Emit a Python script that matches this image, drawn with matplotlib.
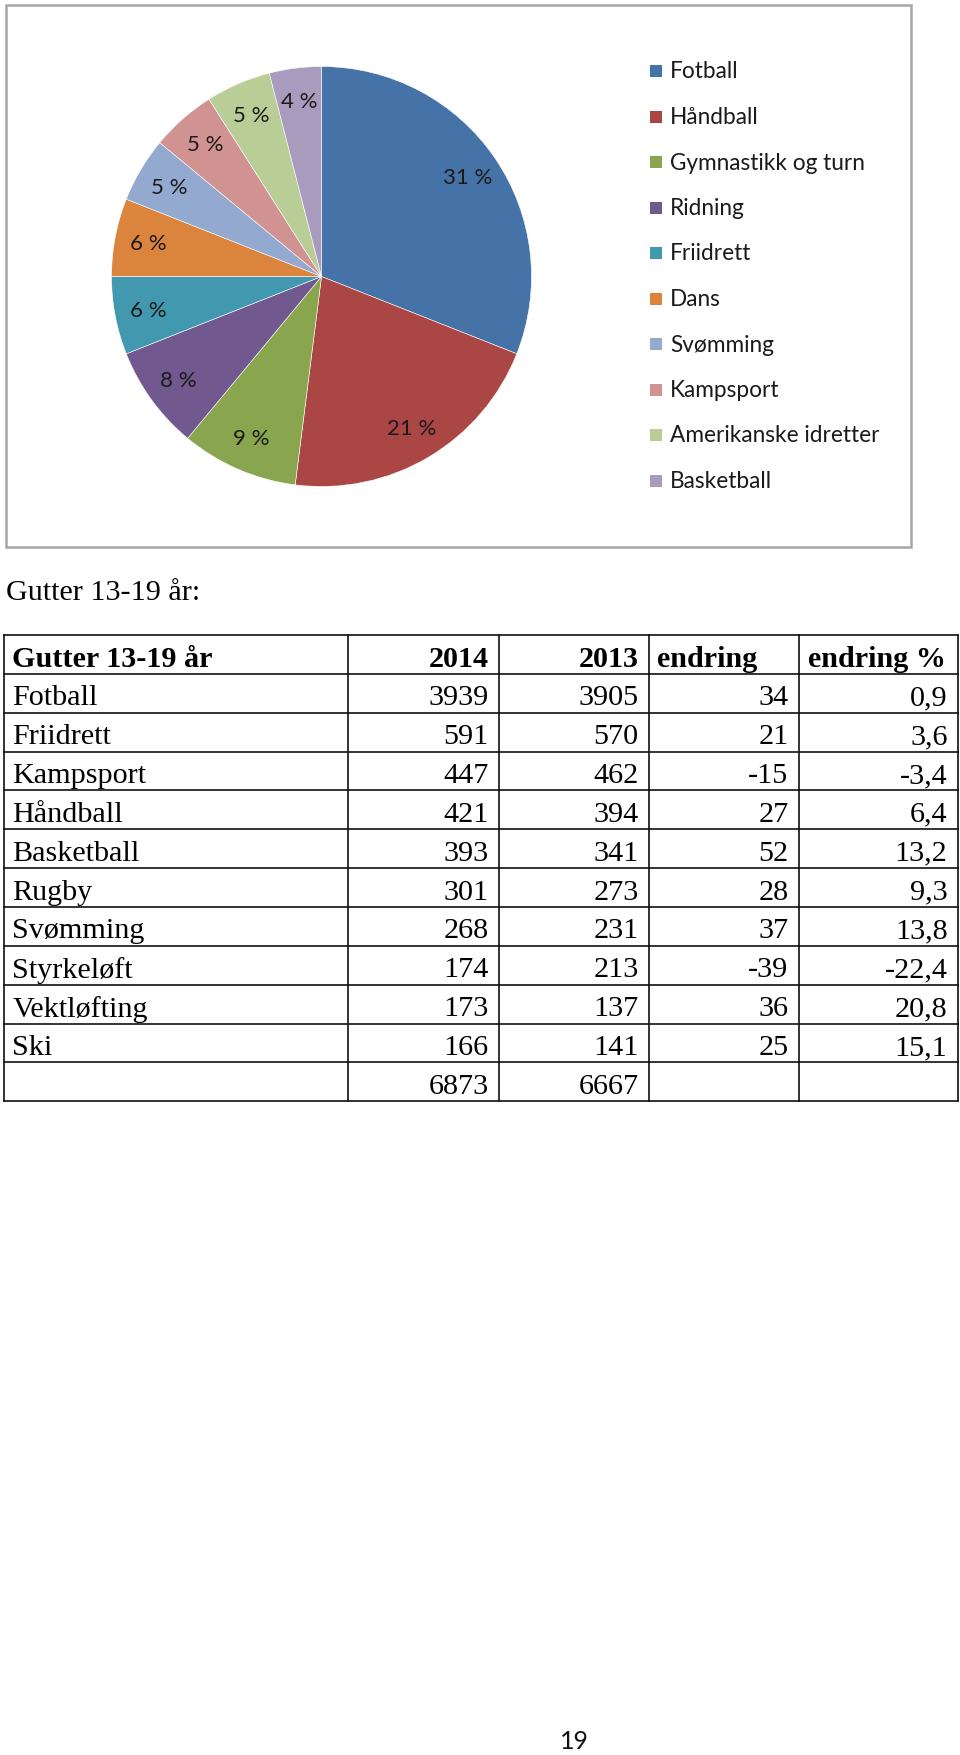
import matplotlib
matplotlib.use("Agg")
import matplotlib.pyplot as plt
from matplotlib.patches import Rectangle

# ---------------- data ----------------
pie_labels = ["Fotball", "Håndball", "Gymnastikk og turn", "Ridning", "Friidrett",
              "Dans", "Svømming", "Kampsport", "Amerikanske idretter", "Basketball"]
pie_values = [31, 21, 9, 8, 6, 6, 5, 5, 5, 4]
pie_colors = ["#4572A7", "#AA4643", "#89A54E", "#71588F", "#4198AF",
              "#DB843D", "#93A9CF", "#D19392", "#B9CD96", "#A99BBD"]

table_title = "Gutter 13-19 år:"
header = ["Gutter 13-19 år", "2014", "2013", "endring", "endring %"]
header_align = ["left", "right", "right", "left", "left"]
sports = ["Fotball", "Friidrett", "Kampsport", "Håndball", "Basketball",
          "Rugby", "Svømming", "Styrkeløft", "Vektløfting", "Ski"]
y2014 = [3939, 591, 447, 421, 393, 301, 268, 174, 173, 166]
y2013 = [3905, 570, 462, 394, 341, 273, 231, 213, 137, 141]
endring = [34, 21, -15, 27, 52, 28, 37, -39, 36, 25]
endring_pct = ["0,9", "3,6", "-3,4", "6,4", "13,2", "9,3", "13,8", "-22,4", "20,8", "15,1"]
totals = ["", "6873", "6667", "", ""]
page_number = "19"

# ---------------- figure ----------------
W, H = 960, 1756
fig = plt.figure(figsize=(W / 100, H / 100), dpi=100)
fig.patch.set_facecolor("white")

# overlay axes in pixel coordinates
ov = fig.add_axes([0, 0, 1, 1])
ov.set_xlim(0, W)
ov.set_ylim(H, 0)
ov.axis("off")

# chart frame
ov.add_patch(Rectangle((6, 6), 905, 542, fill=False, edgecolor="#a6a6a6", lw=1.8))

# pie
cx, cy, r = 321.5, 277.5, 210
pax = fig.add_axes([(cx - r) / W, 1 - (cy + r) / H, 2 * r / W, 2 * r / H])
wedges, texts, autotexts = pax.pie(
    pie_values, colors=pie_colors, startangle=90, counterclock=False,
    autopct=lambda p: f"{p:.0f} %", pctdistance=0.84,
    wedgeprops=dict(edgecolor="white", linewidth=0.4),
    textprops=dict(family="Lato", fontsize=16, color="#1a1a1a"))
pax.set_xlim(-1, 1)
pax.set_ylim(-1, 1)
pax.set_aspect("equal")
pax.axis("off")

# legend
lx, ly0, dy = 656, 72, 45.5
for i, (lab, col) in enumerate(zip(pie_labels, pie_colors)):
    y = ly0 + i * dy
    ov.add_patch(Rectangle((lx - 6, y - 6), 12, 12, facecolor=col, edgecolor="none"))
    ov.text(lx + 14, y, lab, family="Lato", fontsize=16.3, color="#1a1a1a",
            va="center", ha="left")

# table title
ov.text(6, 593, table_title, family="Liberation Serif", fontsize=21.7,
        va="center", ha="left")

# table grid
col_x = [3.5, 347.5, 498.5, 648.5, 798.5, 957.5]
row_top = 636
row_h = 38.85
n_rows = 1 + len(sports) + 1
row_y = [row_top + i * row_h for i in range(n_rows + 1)]
for x in col_x:
    ov.plot([x, x], [row_y[0], row_y[-1]], color="#111111", lw=1.2,
            solid_capstyle="projecting")
for y in row_y:
    ov.plot([col_x[0], col_x[-1]], [y, y], color="#111111", lw=1.2,
            solid_capstyle="projecting")

def cell(row, col, txt, bold=False, align=None):
    yc = (row_y[row] + row_y[row + 1]) / 2 + 1
    if align is None:
        align = "left" if col == 0 else "right"
    if align == "left":
        x = col_x[col] + (9 if col == 0 else 9)
    else:
        x = col_x[col + 1] - 10
    ov.text(x, yc, txt, family="Liberation Serif", fontsize=21.7,
            fontweight="bold" if bold else "normal", va="center_baseline", ha=align)

for c, h in enumerate(header):
    cell(0, c, h, bold=True, align=header_align[c])
for i in range(len(sports)):
    vals = [sports[i], str(y2014[i]), str(y2013[i]), str(endring[i]), endring_pct[i]]
    for c, v in enumerate(vals):
        cell(i + 1, c, v)
for c, v in enumerate(totals):
    if v:
        cell(n_rows - 1, c, v)

# page number
ov.text(574.5, 1742, page_number, family="Lato", fontsize=18, va="center", ha="center",
        color="#111111")

fig.savefig("out.png", dpi=100, facecolor="white")
